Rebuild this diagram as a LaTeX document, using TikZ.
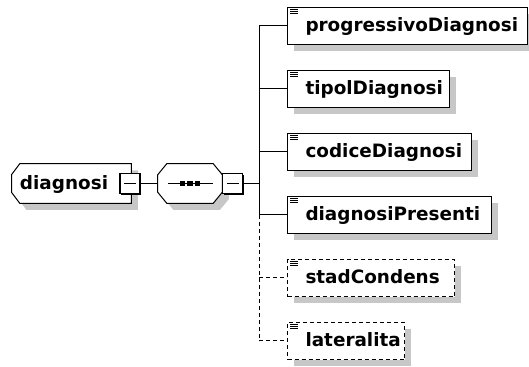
\documentclass[tikz,border=0pt]{standalone}
\usepackage{fontspec}
\setmainfont{DejaVu Sans}
\usetikzlibrary{shadows, backgrounds}
\hfuzz=100pt
\hbadness=10000

\tikzset{
  shade/.style={drop shadow={shadow xshift=5pt, shadow yshift=-5pt, fill=black!22, opacity=1}},
  label font/.style={font=\bfseries\fontsize{13.8pt}{16pt}\selectfont, text height=11pt, text depth=2.5pt},
  elem/.style={draw, line width=0.75pt, fill=white, anchor=west, inner xsep=13.5pt, inner ysep=0pt,
    minimum height=28pt, text width=#1, align=left, label font, shade},
  optelem/.style={elem=#1, dash pattern=on 3pt off 2.25pt},
  compbox/.style={inner sep=0pt, minimum height=29.25pt},
  outline/.style={draw, line width=0.75pt, fill=white, shade},
  minusbox/.style={draw, line width=0.9pt, fill=white, minimum size=15pt, inner sep=0pt,
    drop shadow={shadow xshift=0.9pt, shadow yshift=-0.9pt, fill=black, opacity=1},
    path picture={\draw[line width=0.7pt] ([xshift=3pt]path picture bounding box.west) -- ([xshift=-3pt]path picture bounding box.east);}},
  link/.style={line width=0.75pt},
  optlink/.style={line width=0.75pt, dash pattern=on 3pt off 2.25pt}
}

\begin{document}
\begin{tikzpicture}[x=0.75pt, y=-0.75pt]
  \useasboundingbox (0,0) rectangle (529,367);

  % root element and its sequence
  \node[compbox, minimum width=89.25pt, text width=77.25pt, align=left, label font] (diag) at (71.5,183.5) {diagnosi};
  \node[compbox, minimum width=48pt] (seq) at (190,183.5) {};
  \begin{scope}[on background layer]
    \fill[white] (0,0) rectangle (529,367);
    \path[outline] ([xshift=6pt]diag.north west) -- (diag.north east) -- (diag.south east)
      -- ([xshift=6pt]diag.south west) -- ([yshift=8pt]diag.south west) -- ([yshift=-8pt]diag.north west) -- cycle;
    \path[outline] ([xshift=6.75pt]seq.north west) -- ([xshift=-6.75pt]seq.north east)
      -- ([yshift=-8.25pt]seq.north east) -- ([yshift=8.25pt]seq.south east)
      -- ([xshift=-6.75pt]seq.south east) -- ([xshift=6.75pt]seq.south west)
      -- ([yshift=8.25pt]seq.south west) -- ([yshift=-8.25pt]seq.north west) -- cycle;
  \end{scope}
  \node[minusbox] (diagMinus) at (130,183.5) {};
  \node[minusbox, anchor=west] (seqMinus) at (seq.east) {};
  \draw[line width=1.1pt] ([xshift=-16.5pt]seq.center) -- ([xshift=17pt]seq.center);
  \foreach \d in {-1,0,1}
    \fill ([xshift=\d*5.8pt]seq.center) +(-2pt,-2pt) rectangle +(2pt,2pt);
  \coordinate (fork) at (259,183.5);

  % children
  \node[elem=153pt] (progDiag) at (287,26) {progressivoDiagnosi};
  \node[elem=94.5pt] (tipolDiag) at (287,89) {tipolDiagnosi};
  \node[elem=111pt] (codDiag) at (287,152) {codiceDiagnosi};
  \node[elem=126pt] (diagPres) at (287,215) {diagnosiPresenti};
  \node[optelem=98.25pt] (stadCond) at (287,278) {stadCondens};
  \node[optelem=60.75pt] (lateral) at (287,341) {lateralita};

  % little icons
  \foreach \n in {progDiag,tipolDiag,codDiag,diagPres,stadCond,lateral}
    \foreach \k in {0,1,2}
      \draw[line width=0.6pt] ([shift={(3,3+2*\k)}]\n.north west) -- ++(8,0);

  % connectors
  \draw[link] (diagMinus.east) -- (seq.west);
  \draw[link] (seqMinus.east) -- (fork);
  \draw[link] (fork |- progDiag.west) -- (fork |- diagPres.west);
  \draw[optlink] (fork |- diagPres.west) -- (fork |- lateral.west);
  \foreach \n in {progDiag,tipolDiag,codDiag,diagPres}
    \draw[link] (fork |- \n.west) -- (\n.west);
  \foreach \n in {stadCond,lateral}
    \draw[optlink] (fork |- \n.west) -- (\n.west);
\end{tikzpicture}
\end{document}
